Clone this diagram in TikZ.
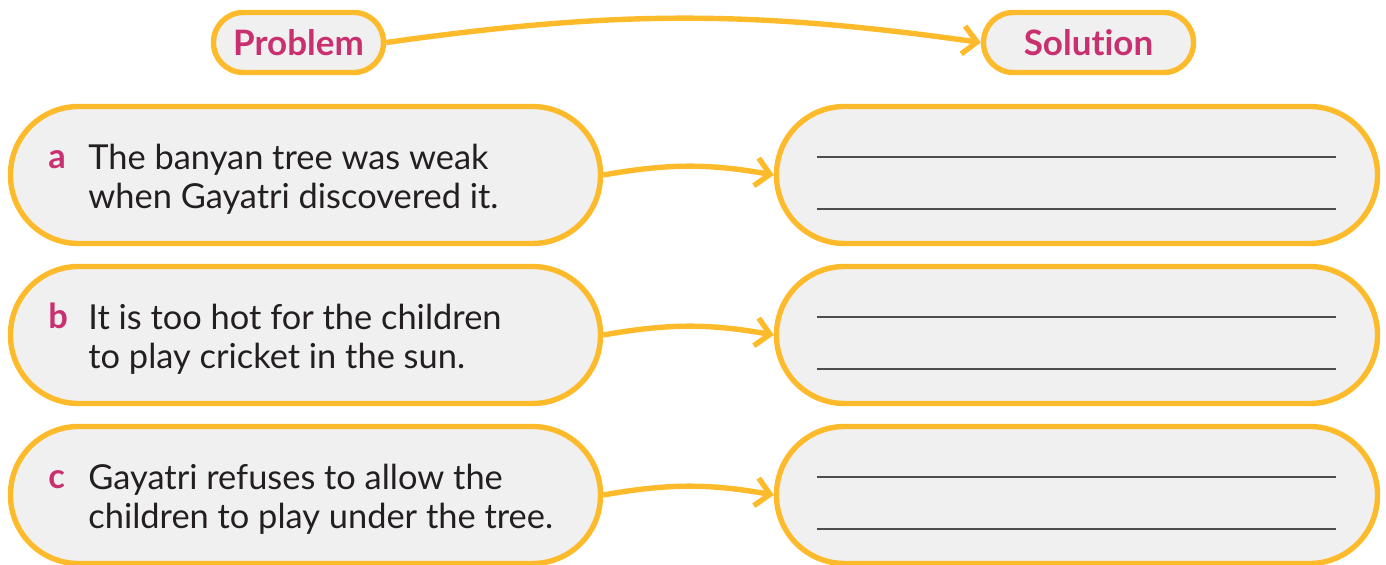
\documentclass[tikz,border=0pt]{standalone}
\usepackage{fontspec}
\setmainfont{Lato}[Ligatures={NoCommon}]
\usetikzlibrary{arrows.meta}
\definecolor{ylw}{HTML}{FDBB2B}
\definecolor{mag}{HTML}{C8306F}
\definecolor{boxfill}{HTML}{F0F0F0}
\definecolor{ink}{HTML}{231F20}
\definecolor{rulec}{HTML}{4D4D4D}
\begin{document}
\begin{tikzpicture}[x=0.5pt,y=-0.5pt,
  pill/.style={draw=ylw, line width=2.7pt, fill=boxfill, rounded corners=34pt, minimum height=68.5pt, inner sep=0pt},
  head/.style={draw=ylw, line width=2.7pt, fill=boxfill, rounded corners=14.9pt, minimum height=30pt, inner sep=0pt, font=\bfseries\fontsize{17.5}{20}\selectfont, text=mag},
  lbl/.style={font=\bfseries\fontsize{17.2}{19.5}\selectfont, text=mag, anchor=base west, inner sep=0pt},
  body/.style={font=\fontsize{17.2}{19.5}\selectfont, text=ink, align=left, anchor=north west, inner sep=0pt},
  conn/.style={draw=ylw, line width=2.7pt, -{Straight Barb[length=7pt,width=14pt]}},
  rl/.style={draw=rulec, line width=0.8pt}]
\useasboundingbox (0,0) rectangle (1386,565);
\clip (0,0) rectangle (1386,565);
% headings
\node[head, minimum width=85pt] (prob) at (298.5,42.5) {Problem};
\node[head, minimum width=105pt] (sol) at (1088.5,42.5) {Solution};
\draw[conn] (prob.east) to[bend left=8] (sol.west);
% problem boxes
\node[pill, minimum width=295pt] (pa) at (305.5,175) {};
\node[pill, minimum width=295pt] (pb) at (305.5,335) {};
\node[pill, minimum width=295pt] (pc) at (305.5,495) {};
% solution boxes
\node[pill, minimum width=300.5pt] (sa) at (1077,175) {};
\node[pill, minimum width=300.5pt] (sb) at (1077,335) {};
\node[pill, minimum width=300.5pt] (sc) at (1077,495) {};
% texts
\node[lbl] (la) at (48,169) {a};
\node[body] (ta) at (88,144) {The banyan tree was weak\\when Gayatri discovered it.};
\node[lbl] (lb) at (48,329) {b};
\node[body] (tb) at (88,304) {It is too hot for the children\\to play cricket in the sun.};
\node[lbl] (lc) at (48,489) {c};
\node[body] (tc) at (88,464) {Gayatri refuses to allow the\\children to play under the tree.};
% connectors
\draw[conn] (pa.east) to[bend left=10] (sa.west);
\draw[conn] (pb.east) to[bend left=10] (sb.west);
\draw[conn] (pc.east) to[bend left=10] (sc.west);
% answer lines
\foreach \yy in {157,209,317,369,477,529}{
  \draw[rl] (817,\yy) -- (1336,\yy);
}
\end{tikzpicture}
\end{document}
